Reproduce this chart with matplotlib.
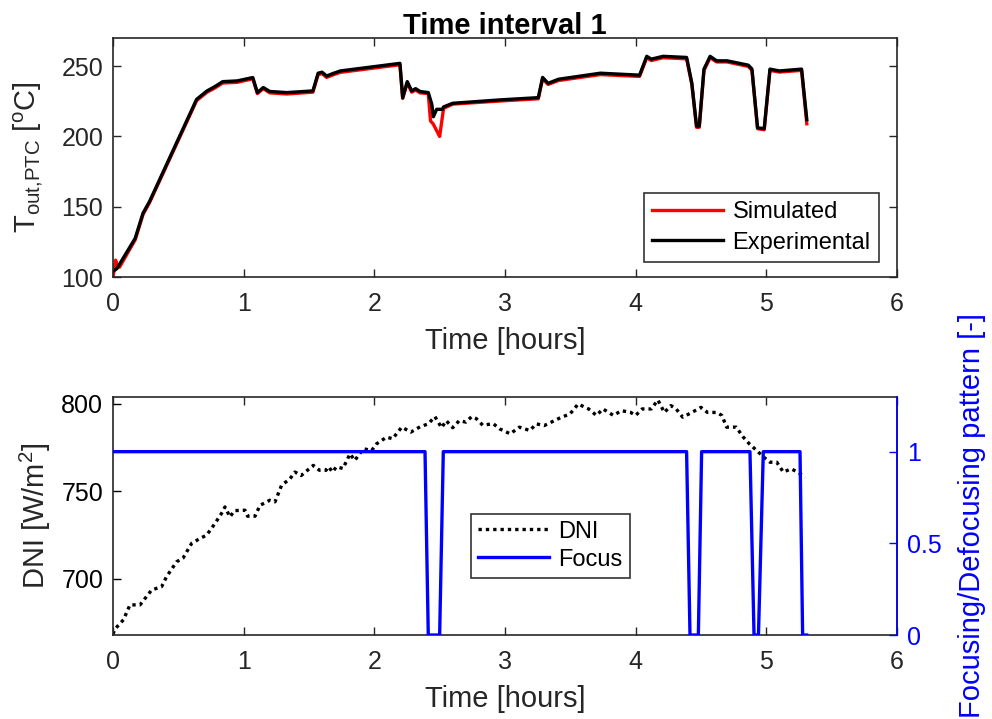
import matplotlib
matplotlib.use("Agg")
import matplotlib.pyplot as plt

plt.rcParams['font.family'] = ['Liberation Sans', 'DejaVu Sans']
plt.rcParams['mathtext.fontset'] = 'custom'
plt.rcParams['mathtext.rm'] = 'Liberation Sans'
plt.rcParams['mathtext.it'] = 'Liberation Sans:italic'
plt.rcParams['mathtext.bf'] = 'Liberation Sans:bold'

# outlet temperature, experimental
t_exp = [0, 0.03, 0.17, 0.23, 0.28, 0.64, 0.72, 0.78, 0.84, 0.95, 1.07, 1.105,
         1.15, 1.2, 1.33, 1.53, 1.57, 1.6, 1.635, 1.69, 1.74, 2.196, 2.217, 2.252,
         2.286, 2.316, 2.35, 2.413, 2.44, 2.452, 2.477, 2.52, 2.53, 2.6, 2.96,
         3.255, 3.288, 3.33, 3.41, 3.73, 4.03, 4.085, 4.12, 4.21, 4.39, 4.43,
         4.466, 4.487, 4.523, 4.57, 4.62, 4.70, 4.862, 4.89, 4.933, 4.984, 5.028,
         5.1, 5.27, 5.31]
T_exp = [104, 106, 127.6, 145.5, 153.8, 226.4, 232.4, 235.5, 239, 239.5, 241.9,
         231.2, 234.8, 232, 231.2, 232.4, 245, 245.7, 243, 245, 246.6, 252, 227.6,
         239, 232.4, 234, 232, 231.2, 222.9, 214, 219.3, 219.3, 221, 223.6, 226,
         227.6, 242, 237.8, 240.7, 245, 243.6, 257, 255, 257, 256.2, 238, 207.4,
         207.4, 247.9, 257, 253.8, 253.8, 250.7, 248, 206.2, 205.5, 247.9, 246.6,
         247.9, 212]

# outlet temperature, simulated
t_sim = [0, 0.02, 0.035, 0.05, 0.17, 0.23, 0.28, 0.64, 0.72, 0.78, 0.84, 0.95,
         1.07, 1.105, 1.15, 1.2, 1.33, 1.53, 1.57, 1.6, 1.635, 1.69, 1.74, 2.196,
         2.217, 2.252, 2.286, 2.316, 2.35, 2.413, 2.43, 2.45, 2.5, 2.53, 2.6,
         2.96, 3.255, 3.288, 3.33, 3.41, 3.73, 4.03, 4.085, 4.12, 4.21, 4.39,
         4.43, 4.466, 4.487, 4.523, 4.57, 4.62, 4.70, 4.862, 4.89, 4.933, 4.984,
         5.028, 5.1, 5.27, 5.31]
T_sim = [100, 112, 108, 107, 126.5, 144.5, 153, 225.5, 231.5, 234.5, 238, 238.5,
         241, 230.5, 234, 231, 230.2, 231.5, 244, 244.7, 242, 244, 245.6, 251,
         227, 238, 231.5, 233, 231, 230.5, 211, 209, 200, 220, 223, 225.2,
         226.8, 241, 237, 239.8, 244, 242.7, 256, 254, 256, 255.2, 237, 206.5,
         206.5, 247, 256, 253, 253, 249.8, 247, 205.5, 204.8, 247, 245.8, 247,
         209]

# direct normal irradiance
t_dni = [0.0, 0.015, 0.08, 0.13, 0.207, 0.296, 0.372, 0.41, 0.487, 0.536, 0.602,
         0.666, 0.717, 0.78, 0.83, 0.857, 0.895, 0.93, 1.01, 1.03, 1.087, 1.125,
         1.2, 1.24, 1.29, 1.355, 1.393, 1.44, 1.533, 1.58, 1.63, 1.65, 1.68, 1.71,
         1.76, 1.814, 1.85, 1.916, 1.98, 2.017, 2.094, 2.14, 2.21, 2.28, 2.35,
         2.413, 2.464, 2.515, 2.55, 2.60, 2.65, 2.70, 2.745, 2.78, 2.83, 2.91,
         2.96, 3.04, 3.11, 3.19, 3.24, 3.30, 3.38, 3.43, 3.497, 3.56, 3.64, 3.70,
         3.75, 3.83, 3.89, 3.96, 4.0, 4.05, 4.12, 4.17, 4.22, 4.27, 4.31, 4.36,
         4.43, 4.50, 4.55, 4.62, 4.66, 4.696, 4.77, 4.824, 4.87, 4.926, 4.98,
         5.028, 5.08, 5.13, 5.19, 5.24, 5.296]
dni = [668.5, 671.4, 676.7, 685.2, 685.2, 693.7, 695.6, 701.3, 709.8, 711.9,
       720.3, 723.1, 725, 731.6, 737.3, 741.1, 735.4, 739, 739.2, 735.8, 735.8,
       742, 744.9, 744, 753.4, 757.2, 761, 759, 764.8, 762, 762, 764, 761, 764,
       763, 771.4, 767.6, 774.3, 773.3, 777.1, 780.9, 780, 786.6, 783.8, 786.8,
       788.5, 792.6, 786.3, 790.3, 786.3, 790.3, 789.5, 792.6, 791.5, 787.7,
       788.6, 785.6, 782.8, 786.6, 784.7, 788.5, 787.5, 790.4, 792.2, 794.1,
       799.8, 797, 793.3, 797, 793.3, 796, 795.1, 793.3, 797, 797, 802.1, 795,
       798.9, 797, 792.3, 795, 797.9, 795, 795, 793.3, 786.6, 786.6, 780.9,
       777.1, 773.3, 769.5, 766.6, 766.6, 761, 762.8, 761, 758.1]

# focusing / defocusing pattern
t_focus = [0, 2.388, 2.413, 2.50, 2.528, 4.39, 4.416, 4.48, 4.505, 4.875, 4.906,
           4.94, 4.977, 5.258, 5.278, 5.309]
focus = [1, 1, 0, 0, 1, 1, 0, 0, 1, 1, 0, 0, 1, 1, 0, 0]

dark = '#262626'
tick_fs = 18
label_fs = 21
leg_fs = 17

fig = plt.figure(figsize=(9.92, 7.19), dpi=100)
ax1 = fig.add_axes([0.1139, 0.6147, 0.7903, 0.3324])
ax3 = fig.add_axes([0.1139, 0.1168, 0.7903, 0.3315])

# top panel
ax1.plot(t_sim, T_sim, color='red', lw=2.4, label='Simulated')
ax1.plot(t_exp, T_exp, color='black', lw=2.4, label='Experimental')
ax1.set_xlim(0, 6)
ax1.set_ylim(100, 270)
ax1.set_yticks([100, 150, 200, 250])
ax1.tick_params(direction='in', length=6, width=1, labelsize=tick_fs, colors=dark,
                top=True, right=True, pad=7)
ax1.tick_params(axis='x', pad=11)
ax1.set_xlabel('Time [hours]', fontsize=label_fs, color=dark, labelpad=8)
ax1.set_ylabel(r'T$_{\mathrm{out{,}PTC}}$ [$^{\mathrm{o}}$C]', fontsize=label_fs,
               color=dark, labelpad=12)
ax1.set_title('Time interval 1', fontsize=21, fontweight='bold', color='black', pad=3)
for s in ax1.spines.values():
    s.set_color(dark)
    s.set_linewidth(1.2)
leg1 = ax1.legend(loc='lower right', bbox_to_anchor=(0.977, 0.063), fontsize=leg_fs,
                  frameon=True, fancybox=False, edgecolor='black', handlelength=3.0,
                  borderpad=0.35, labelspacing=0.35, handletextpad=0.4,
                  borderaxespad=0)
leg1.get_frame().set_linewidth(1.2)

# bottom panel
l_dni, = ax3.plot(t_dni, dni, color='black', lw=2.4, linestyle=(0, (1, 1.2)),
                  label='DNI')
ax3.set_xlim(0, 6)
ax3.set_ylim(668, 804)
ax3.set_yticks([700, 750, 800])
ax3.tick_params(direction='in', length=6, width=1, labelsize=tick_fs, colors=dark,
                top=True, pad=7)
ax3.tick_params(axis='x', pad=11)
ax3.tick_params(axis='y', colors='black')
ax3.set_xlabel('Time [hours]', fontsize=label_fs, color=dark, labelpad=8)
ax3.set_ylabel('DNI [W/m$^2$]', fontsize=label_fs, color=dark, labelpad=6)
for s in ax3.spines.values():
    s.set_color(dark)
    s.set_linewidth(1.2)

ax4 = ax3.twinx()
l_focus, = ax4.plot(t_focus, focus, color='blue', lw=2.4, label='Focus')
ax4.set_ylim(0, 1.3)
ax4.set_yticks([0, 0.5, 1])
ax4.set_yticklabels(['0', '0.5', '1'])
ax4.set_ylabel('Focusing/Defocusing pattern [-]', fontsize=label_fs, color='blue',
               labelpad=12)
ax4.tick_params(axis='y', direction='in', length=6, width=1, labelsize=tick_fs,
                colors='blue', pad=7)
ax4.spines['right'].set_color('blue')
ax4.spines['right'].set_linewidth(1.2)
for k in ['left', 'top', 'bottom']:
    ax4.spines[k].set_visible(False)

leg2 = ax4.legend([l_dni, l_focus], ['DNI', 'Focus'], loc='center left',
                  bbox_to_anchor=(0.4566, 0.375), fontsize=leg_fs, frameon=True,
                  fancybox=False, edgecolor='black', handlelength=3.0,
                  borderpad=0.3, labelspacing=0.25, handletextpad=0.4,
                  borderaxespad=0)
leg2.get_frame().set_linewidth(1.2)

fig.savefig('out.png', dpi=100)
